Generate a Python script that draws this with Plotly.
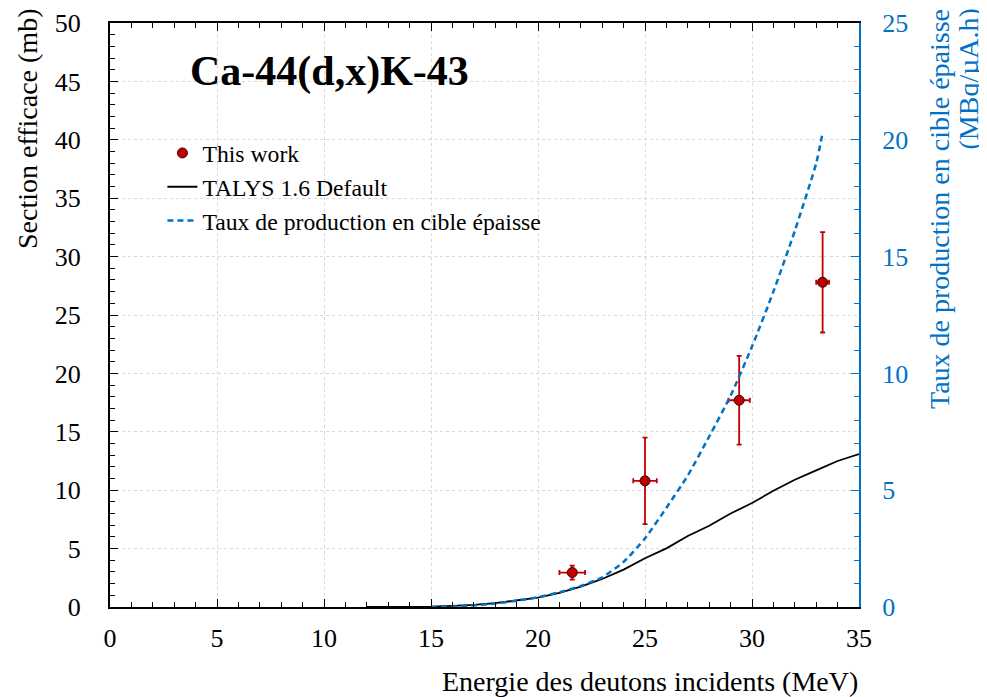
import plotly.graph_objects as go

# ---- data ----
exp_energy = [21.6, 25.0, 29.4, 33.3]
exp_xs = [2.95, 10.8, 17.7, 27.8]
exp_xs_err = [0.6, 3.7, 3.8, 4.3]
exp_energy_err = [0.6, 0.55, 0.5, 0.3]

talys_energy = [12, 13, 14, 15, 16, 17, 18, 19, 20, 21, 22, 23, 24, 25, 26, 27, 28, 29, 30, 31, 32, 33, 34, 35]
talys_xs = [0.0, 0.0, 0.01, 0.04, 0.1, 0.18, 0.33, 0.55, 0.8, 1.2, 1.75, 2.4, 3.2, 4.17, 5.02, 6.08, 6.95, 8.0, 8.9, 9.95, 10.9, 11.7, 12.5, 13.1]

yield_energy = [15, 16, 17, 18, 19, 20, 21, 22, 23, 24, 25, 26, 27, 28, 29, 30, 31, 32, 33, 33.3]
yield_rate = [0.0, 0.02, 0.07, 0.15, 0.27, 0.42, 0.63, 0.9, 1.27, 1.93, 2.94, 4.25, 5.63, 7.3, 9.05, 11.15, 13.5, 16.1, 19.0, 20.3]

FONT = "Liberation Serif"
RED = "#C00000"
BLUE = "#0072C6"

# page body has an 8px margin: figure is placed at (8, 8) in the window
OFF = 8

fig = go.Figure()

fig.add_trace(go.Scatter(
    x=exp_energy, y=exp_xs, mode="markers", name="This work",
    marker=dict(symbol="circle", size=10, color=RED, line=dict(color="#3a0000", width=1)),
    error_y=dict(type="data", array=exp_xs_err, color=RED, thickness=1.8, width=2.5),
    error_x=dict(type="data", array=exp_energy_err, color=RED, thickness=1.8, width=2.5),
))
fig.add_trace(go.Scatter(
    x=talys_energy, y=talys_xs, mode="lines", name="TALYS 1.6 Default",
    line=dict(color="black", width=1.8),
))
fig.add_trace(go.Scatter(
    x=yield_energy, y=yield_rate, mode="lines", name="Taux de production en cible épaisse",
    line=dict(color=BLUE, width=2.5, dash="6px,4px", shape="spline", smoothing=0.6),
    yaxis="y2",
))

fig.update_layout(
    width=987 - OFF, height=697 - OFF,
    margin=dict(l=110 - OFF, r=128, t=23 - OFF, b=90, autoexpand=False),
    paper_bgcolor="white", plot_bgcolor="white",
    font=dict(family=FONT, size=26, color="black"),
    showlegend=True,
    legend=dict(
        x=0.070, y=0.815, xanchor="left", yanchor="top",
        bgcolor="rgba(0,0,0,0)", font=dict(family=FONT, size=23.7),
        tracegroupgap=0, itemwidth=30,
    ),
    xaxis=dict(
        range=[0, 35], dtick=5, tick0=0, automargin=False,
        showline=True, linecolor="black", linewidth=2, mirror="ticks",
        ticks="inside", ticklen=8, tickwidth=1.3, tickcolor="black",
        minor=dict(ticks="inside", dtick=1, ticklen=5, tickcolor="black", showgrid=False),
        showgrid=True, gridcolor="#d8d8d8", griddash="dot", gridwidth=1,
        zeroline=False, ticklabelstandoff=7,
        tickfont=dict(family=FONT, size=26),
    ),
    yaxis=dict(
        range=[0, 50], dtick=5, tick0=0, automargin=False,
        showline=True, linecolor="black", linewidth=2,
        ticks="inside", ticklen=8, tickwidth=1.3, tickcolor="black",
        minor=dict(ticks="inside", dtick=1, ticklen=5, tickcolor="black", showgrid=False),
        showgrid=True, gridcolor="#d8d8d8", griddash="dot", gridwidth=1,
        zeroline=False, ticklabelstandoff=22,
        tickfont=dict(family=FONT, size=26),
    ),
    yaxis2=dict(
        range=[0, 25], dtick=5, tick0=0, overlaying="y", side="right", automargin=False,
        showline=True, linecolor=BLUE, linewidth=2,
        ticks="inside", ticklen=8, tickwidth=1.3, tickcolor=BLUE,
        minor=dict(ticks="inside", dtick=1, ticklen=5, tickcolor=BLUE, showgrid=False),
        showgrid=False, zeroline=False, ticklabelstandoff=16,
        tickfont=dict(family=FONT, size=26, color=BLUE),
    ),
    annotations=[
        dict(text="<b>Ca-44(d,x)K-43</b>", xref="paper", yref="paper",
             x=(329 - 110) / 749, y=(607 - 72) / 584, xanchor="center", yanchor="middle",
             showarrow=False, font=dict(family=FONT, size=42, color="black")),
        dict(text="Energie des deutons incidents (MeV)", xref="paper", yref="paper",
             x=(860 - 110) / 749, y=(607 - 681) / 584, xanchor="right", yanchor="middle",
             showarrow=False, font=dict(family=FONT, size=28, color="black")),
        dict(text="Section efficace (mb)", xref="paper", yref="paper", textangle=-90,
             x=(28 - 110) / 749, y=(607 - 7) / 584, xanchor="center", yanchor="top",
             showarrow=False, font=dict(family=FONT, size=28, color="black")),
        dict(text="Taux de production en cible épaisse", xref="paper", yref="paper",
             textangle=-90,
             x=(940 - 110) / 749, y=(607 - 7) / 584, xanchor="center", yanchor="top",
             showarrow=False, font=dict(family=FONT, size=28, color=BLUE)),
        dict(text="(MBq/µA.h)", xref="paper", yref="paper",
             textangle=-90,
             x=(968 - 110) / 749, y=(607 - 7) / 584, xanchor="center", yanchor="top",
             showarrow=False, font=dict(family=FONT, size=28, color=BLUE)),
    ],
)

fig.write_html("out.html")
